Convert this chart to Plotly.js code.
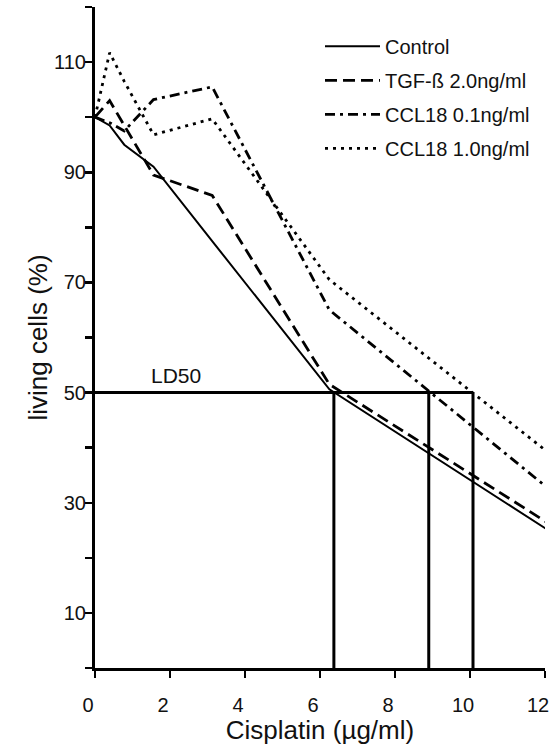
<!DOCTYPE html>
<html>
<head>
<meta charset="utf-8">
<script src="https://cdn.plot.ly/plotly-3.0.1.min.js"></script>
<style>html,body{margin:0;padding:0;background:#fff;}#chart{width:549px;height:745px;}</style>
</head>
<body>
<div id="chart"></div>
<script>
// Cisplatin doses (µg/ml)
const doses = [0, 0.39, 0.78, 1.56, 3.125, 6.25, 12.5];
// living cells (%)
const control = [100, 98.5, 95, 91, 77.5, 50.6, 23.2];
const tgfBeta2 = [100, 103, 98.5, 89.5, 85.8, 51.5, 24.5];
const ccl18_01 = [100, 99, 97.5, 103.2, 105.5, 65, 30.3];
const ccl18_10 = [100, 111.7, 106.5, 96.8, 99.7, 70.5, 36.9];
const seriesNames = ['Control', 'TGF-ß 2.0ng/ml', 'CCL18 0.1ng/ml', 'CCL18 1.0ng/ml'];
// LD50 level and doses where each curve crosses it
const ld50Level = 50;
const ld50Doses = [6.37, 8.9, 10.08];
const ld50Label = 'LD50';
// axis ticks
const xTickVals = [0, 2, 4, 6, 8, 10, 12];
const yTickVals = [0, 10, 20, 30, 40, 50, 60, 70, 80, 90, 100, 110, 120];
const yTickText = ['', '10', '', '30', '', '50', '', '70', '', '90', '', '110', ''];

const FONT = 'Liberation Sans, Arial, Helvetica, sans-serif';
const styles = [
  {dash: 'solid', width: 2},
  {dash: '12px,6px', width: 2.8},
  {dash: '10px,5px,3px,5px', width: 2.8},
  {dash: '3px,5px', width: 2.8}
];
const seriesData = [control, tgfBeta2, ccl18_01, ccl18_10];

const traces = seriesData.map((ys, i) => ({
  type: 'scatter', mode: 'lines', x: doses, y: ys, name: seriesNames[i],
  legendgroup: 'g' + i,
  line: {color: '#000', width: styles[i].width, dash: styles[i].dash},
  hoverinfo: 'skip'
}));

// LD50 guide lines
const maxLd = Math.max(...ld50Doses);
const ldX = [0, maxLd], ldY = [ld50Level, ld50Level];
ld50Doses.forEach(d => { ldX.push(null, d, d); ldY.push(null, ld50Level, 0); });
traces.push({
  type: 'scatter', mode: 'lines', x: ldX, y: ldY, showlegend: false,
  line: {color: '#000', width: 3}, hoverinfo: 'skip'
});

const layout = {
  width: 549, height: 745, autosize: false,
  margin: {l: 95, r: 4, t: 7, b: 77},
  paper_bgcolor: '#fff', plot_bgcolor: '#fff',
  font: {family: FONT, color: '#111', size: 20},
  showlegend: true,
  legend: {
    x: 0.5, y: 0.97, xanchor: 'left', yanchor: 'top',
    font: {family: FONT, size: 20, color: '#111'},
    bgcolor: 'rgba(0,0,0,0)', borderwidth: 0,
    traceorder: 'grouped', tracegroupgap: 5, itemwidth: 55
  },
  xaxis: {
    range: [0, 12], tickvals: xTickVals, ticks: 'outside', ticklen: 7, tickwidth: 2.5,
    tickcolor: '#000', showline: true, linewidth: 3, linecolor: '#000',
    showgrid: false, zeroline: false, automargin: false, fixedrange: true,
    ticklabelstandoff: 10, ticklabelshift: -7, ticklabeloverflow: 'allow',
    tickfont: {family: FONT, size: 20, color: '#111'},
    title: {text: 'Cisplatin (µg/ml)', font: {family: FONT, size: 26, color: '#111'}, standoff: 15}
  },
  yaxis: {
    range: [0, 120], tickvals: yTickVals, ticktext: yTickText, ticks: 'outside', ticklen: 7, tickwidth: 2.5,
    tickcolor: '#000', showline: true, linewidth: 3, linecolor: '#000',
    showgrid: false, zeroline: false, automargin: false, fixedrange: true,
    ticklabelstandoff: -5,
    tickfont: {family: FONT, size: 20, color: '#111'},
    title: {text: 'living cells (%)', font: {family: FONT, size: 26, color: '#111'}, standoff: 0}
  },
  annotations: [{
    x: 1.45, y: ld50Level, xref: 'x', yref: 'y', text: ld50Label, showarrow: false,
    xanchor: 'left', yanchor: 'bottom', yshift: 4,
    font: {family: FONT, size: 21, color: '#111'}
  }]
};

Plotly.newPlot('chart', traces, layout, {displayModeBar: false, staticPlot: true});
</script>
</body>
</html>
